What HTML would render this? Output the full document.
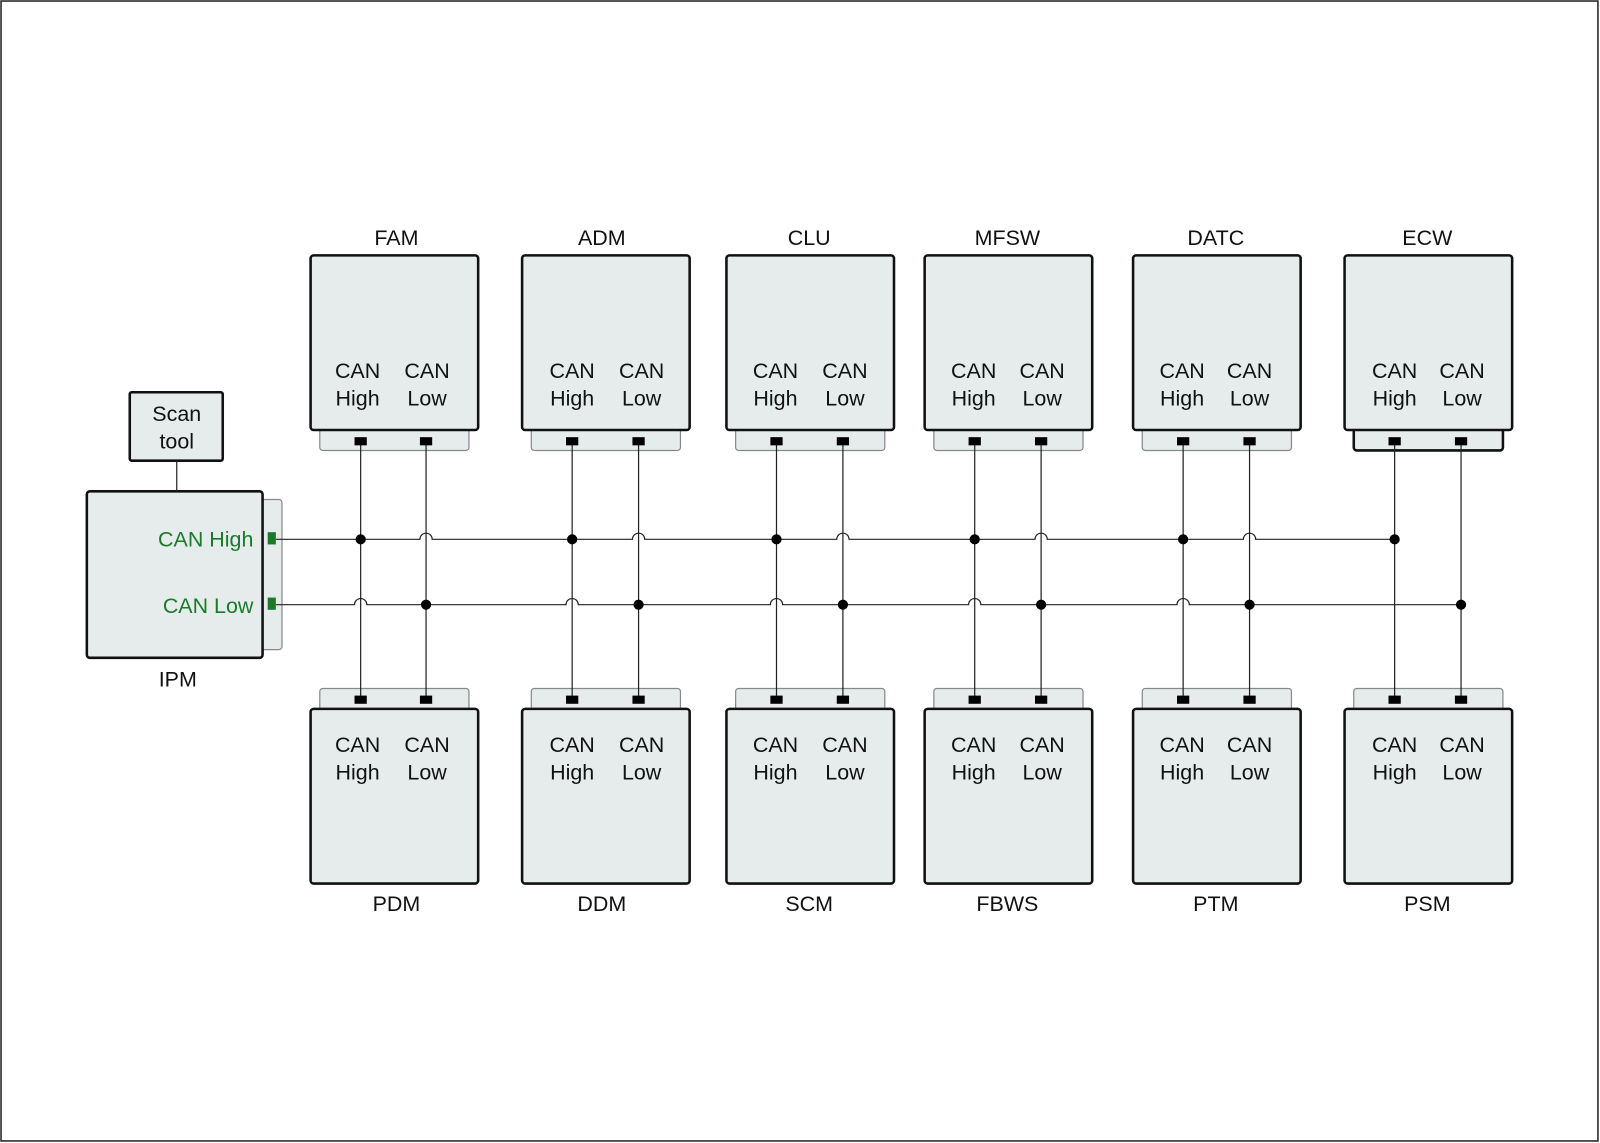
<!DOCTYPE html>
<html><head><meta charset="utf-8"><style>
html,body{margin:0;padding:0;background:#fff}
svg{display:block}
text{font-family:"Liberation Sans",Arial,sans-serif;font-size:21px;fill:#111}
.b{fill:#e6ecec;stroke:#111;stroke-width:2.5}
.s{fill:#e6ecec;stroke:#888;stroke-width:1.2}
.w{fill:none;stroke:#222;stroke-width:1.2}
.p{fill:#000}
</style></head><body>
<svg width="1600" height="1143" viewBox="0 0 1566 1119" preserveAspectRatio="none" xmlns="http://www.w3.org/2000/svg">
<rect x="1" y="1" width="1563" height="1116" fill="#fff" stroke="#222" stroke-width="1.5"/>
<g text-anchor="middle">
<rect class="s" x="313" y="412" width="146" height="29" rx="3"/>
<rect class="s" x="520" y="412" width="146" height="29" rx="3"/>
<rect class="s" x="720" y="412" width="146" height="29" rx="3"/>
<rect class="s" x="914" y="412" width="146" height="29" rx="3"/>
<rect class="s" x="1118" y="412" width="146" height="29" rx="3"/>
<rect x="1325" y="412" width="146" height="29" rx="3" fill="#e6ecec" stroke="#111" stroke-width="2.5"/>
<rect class="b" x="304" y="250" width="164" height="171" rx="3"/>
<rect class="b" x="511" y="250" width="164" height="171" rx="3"/>
<rect class="b" x="711" y="250" width="164" height="171" rx="3"/>
<rect class="b" x="905" y="250" width="164" height="171" rx="3"/>
<rect class="b" x="1109" y="250" width="164" height="171" rx="3"/>
<rect class="b" x="1316" y="250" width="164" height="171" rx="3"/>
<rect class="s" x="313" y="674" width="146" height="29" rx="3"/>
<rect class="s" x="520" y="674" width="146" height="29" rx="3"/>
<rect class="s" x="720" y="674" width="146" height="29" rx="3"/>
<rect class="s" x="914" y="674" width="146" height="29" rx="3"/>
<rect class="s" x="1118" y="674" width="146" height="29" rx="3"/>
<rect class="s" x="1325" y="674" width="146" height="29" rx="3"/>
<rect class="b" x="304" y="694" width="164" height="171" rx="3"/>
<rect class="b" x="511" y="694" width="164" height="171" rx="3"/>
<rect class="b" x="711" y="694" width="164" height="171" rx="3"/>
<rect class="b" x="905" y="694" width="164" height="171" rx="3"/>
<rect class="b" x="1109" y="694" width="164" height="171" rx="3"/>
<rect class="b" x="1316" y="694" width="164" height="171" rx="3"/>

<rect class="s" x="250" y="489" width="26" height="147" rx="3"/>
<rect class="b" x="85" y="481" width="172" height="163" rx="3"/>
<rect class="b" x="127" y="384" width="91" height="67" rx="2"/>

<g class="w">
<line x1="353" y1="432" x2="353" y2="684"/><line x1="417" y1="432" x2="417" y2="684"/>
<line x1="560" y1="432" x2="560" y2="684"/><line x1="625" y1="432" x2="625" y2="684"/>
<line x1="760" y1="432" x2="760" y2="684"/><line x1="825" y1="432" x2="825" y2="684"/>
<line x1="954" y1="432" x2="954" y2="684"/><line x1="1019" y1="432" x2="1019" y2="684"/>
<line x1="1158" y1="432" x2="1158" y2="684"/><line x1="1223" y1="432" x2="1223" y2="684"/>
<line x1="1365" y1="432" x2="1365" y2="684"/><line x1="1430" y1="432" x2="1430" y2="684"/>
<line x1="173" y1="451" x2="173" y2="481"/>
<path d="M270 528 H411 a6 6 0 0 1 12 0 H619 a6 6 0 0 1 12 0 H819 a6 6 0 0 1 12 0 H1013 a6 6 0 0 1 12 0 H1217 a6 6 0 0 1 12 0 H1365"/>
<path d="M270 592 H347 a6 6 0 0 1 12 0 H554 a6 6 0 0 1 12 0 H754 a6 6 0 0 1 12 0 H948 a6 6 0 0 1 12 0 H1152 a6 6 0 0 1 12 0 H1430"/>
</g>
<g class="p">
<rect x="347" y="428" width="12" height="8"/><rect x="411" y="428" width="12" height="8"/>
<rect x="554" y="428" width="12" height="8"/><rect x="619" y="428" width="12" height="8"/>
<rect x="754" y="428" width="12" height="8"/><rect x="819" y="428" width="12" height="8"/>
<rect x="948" y="428" width="12" height="8"/><rect x="1013" y="428" width="12" height="8"/>
<rect x="1152" y="428" width="12" height="8"/><rect x="1217" y="428" width="12" height="8"/>
<rect x="1359" y="428" width="12" height="8"/><rect x="1424" y="428" width="12" height="8"/>
<rect x="347" y="681" width="12" height="8"/><rect x="411" y="681" width="12" height="8"/>
<rect x="554" y="681" width="12" height="8"/><rect x="619" y="681" width="12" height="8"/>
<rect x="754" y="681" width="12" height="8"/><rect x="819" y="681" width="12" height="8"/>
<rect x="948" y="681" width="12" height="8"/><rect x="1013" y="681" width="12" height="8"/>
<rect x="1152" y="681" width="12" height="8"/><rect x="1217" y="681" width="12" height="8"/>
<rect x="1359" y="681" width="12" height="8"/><rect x="1424" y="681" width="12" height="8"/>
<circle cx="353" cy="528" r="5"/><circle cx="560" cy="528" r="5"/><circle cx="760" cy="528" r="5"/>
<circle cx="954" cy="528" r="5"/><circle cx="1158" cy="528" r="5"/><circle cx="1365" cy="528" r="5"/>
<circle cx="417" cy="592" r="5"/><circle cx="625" cy="592" r="5"/><circle cx="825" cy="592" r="5"/>
<circle cx="1019" cy="592" r="5"/><circle cx="1223" cy="592" r="5"/><circle cx="1430" cy="592" r="5"/>
</g>

<rect x="262" y="521" width="8" height="12" fill="#1a7a2a"/>
<rect x="262" y="585" width="8" height="12" fill="#1a7a2a"/>
<text x="173" y="412">Scan</text><text x="173" y="439">tool</text>
<text x="174" y="672">IPM</text>
<text x="248" y="535" text-anchor="end" style="fill:#1a7a2a">CAN High</text>
<text x="248" y="600" text-anchor="end" style="fill:#1a7a2a">CAN Low</text>

<text x="388" y="240">FAM</text><text x="589" y="240">ADM</text><text x="792" y="240">CLU</text>
<text x="986" y="240">MFSW</text><text x="1190" y="240">DATC</text><text x="1397" y="240">ECW</text>
<text x="388" y="892">PDM</text><text x="589" y="892">DDM</text><text x="792" y="892">SCM</text>
<text x="986" y="892">FBWS</text><text x="1190" y="892">PTM</text><text x="1397" y="892">PSM</text>

<g>
<text x="350" y="370">CAN</text><text x="350" y="397">High</text><text x="418" y="370">CAN</text><text x="418" y="397">Low</text>
<text x="560" y="370">CAN</text><text x="560" y="397">High</text><text x="628" y="370">CAN</text><text x="628" y="397">Low</text>
<text x="759" y="370">CAN</text><text x="759" y="397">High</text><text x="827" y="370">CAN</text><text x="827" y="397">Low</text>
<text x="953" y="370">CAN</text><text x="953" y="397">High</text><text x="1020" y="370">CAN</text><text x="1020" y="397">Low</text>
<text x="1157" y="370">CAN</text><text x="1157" y="397">High</text><text x="1223" y="370">CAN</text><text x="1223" y="397">Low</text>
<text x="1365" y="370">CAN</text><text x="1365" y="397">High</text><text x="1431" y="370">CAN</text><text x="1431" y="397">Low</text>
</g>
<g>
<text x="350" y="736">CAN</text><text x="350" y="763">High</text><text x="418" y="736">CAN</text><text x="418" y="763">Low</text>
<text x="560" y="736">CAN</text><text x="560" y="763">High</text><text x="628" y="736">CAN</text><text x="628" y="763">Low</text>
<text x="759" y="736">CAN</text><text x="759" y="763">High</text><text x="827" y="736">CAN</text><text x="827" y="763">Low</text>
<text x="953" y="736">CAN</text><text x="953" y="763">High</text><text x="1020" y="736">CAN</text><text x="1020" y="763">Low</text>
<text x="1157" y="736">CAN</text><text x="1157" y="763">High</text><text x="1223" y="736">CAN</text><text x="1223" y="763">Low</text>
<text x="1365" y="736">CAN</text><text x="1365" y="763">High</text><text x="1431" y="736">CAN</text><text x="1431" y="763">Low</text>
</g>
</g>
</svg>
</body></html>
